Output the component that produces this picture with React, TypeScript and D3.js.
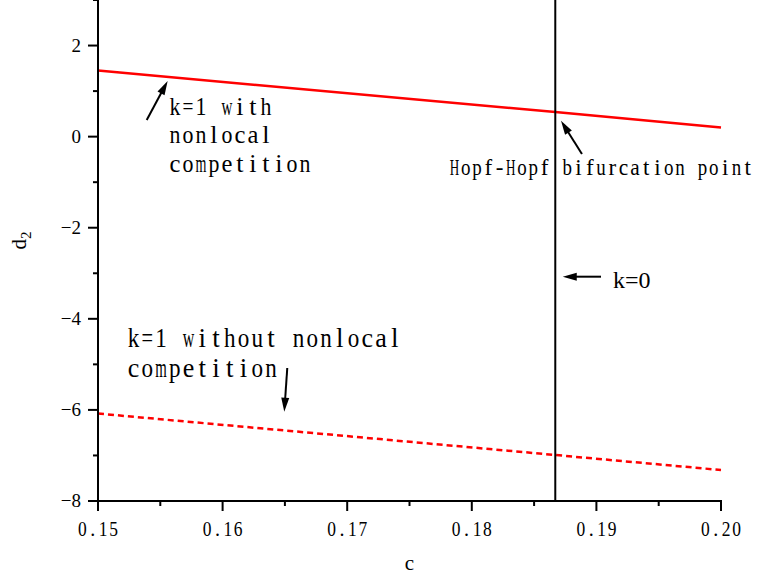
import React from "react";
import * as d3 from "d3";

// Axes
const xDomain: [number, number] = [0.15, 0.2];
const yDomain: [number, number] = [-8, 3];
const xMajorTicks = [0.15, 0.16, 0.17, 0.18, 0.19, 0.2];
const xTickLabels = ["0.15", "0.16", "0.17", "0.18", "0.19", "0.20"];
const xMinorTicks = [0.155, 0.165, 0.175, 0.185, 0.195];
const yMajorTicks = [2, 0, -2, -4, -6, -8];
const yTickLabels = ["2", "0", "\u22122", "\u22124", "\u22126", "\u22128"];
const yMinorTicks = [3, 1, -1, -3, -5, -7];

// Curves: k=1 with nonlocal competition (solid) and without (dashed)
const cValues = [0.15, 0.1867, 0.2];
const d2WithNonlocal = [1.45, 0.54, 0.2];
const d2WithoutNonlocal = [-6.08, -6.99, -7.32];

// k=0 line
const kZeroC = 0.1867;

// Annotation texts
const annLabelsWith = ["k=1 with", "nonlocal", "competition"];
const annLabelsWithout = ["k=1 without nonlocal", "competition"];
const hopfLabel = "Hopf-Hopf bifurcation point";
const kZeroLabel = "k=0";

// Arrows: [tailC, tailD2, tipC, tipD2]
const arrows: [number, number, number, number][] = [
  [0.15391, 0.366, 0.15559, 1.222],
  [0.18884, -0.381, 0.18716, 0.35],
  [0.19037, -3.075, 0.1873, -3.075],
  [0.16519, -5.079, 0.16495, -6.039],
];

const W = 758;
const H = 579;
const left = 98;
const right = 721;
const top = 0;
const bottom = 501;

const serif = "'Liberation Serif', 'DejaVu Serif', serif";

// glyph width measurement for fixed-cell text
let measureCtx: CanvasRenderingContext2D | null = null;
function glyphWidth(ch: string, fontSize: number): number {
  if (!measureCtx) {
    measureCtx = document.createElement("canvas").getContext("2d");
  }
  if (!measureCtx) return fontSize * 0.5;
  measureCtx.font = `${fontSize}px 'Liberation Serif'`;
  return measureCtx.measureText(ch).width;
}

// Draws text with every character centred in a fixed-width cell,
// narrowing wide glyphs so they stay inside their cell.
function CellText({
  text,
  x,
  y,
  cell,
  fontSize,
  anchor = "start",
}: {
  text: string;
  x: number;
  y: number;
  cell: number;
  fontSize: number;
  anchor?: "start" | "middle";
}) {
  const total = text.length * cell;
  const x0 = anchor === "middle" ? x - total / 2 : x;
  const maxW = cell * 0.84;
  return (
    <g>
      {Array.from(text).map((ch, i) => {
        if (ch === " ") return null;
        const w = glyphWidth(ch, fontSize);
        const s = w > maxW ? maxW / w : 1;
        const cx = x0 + (i + 0.5) * cell;
        return (
          <text
            key={i}
            transform={`translate(${cx},${y}) scale(${s},1)`}
            textAnchor="middle"
            fontFamily={serif}
            fontSize={fontSize}
            fill="#000"
          >
            {ch}
          </text>
        );
      })}
    </g>
  );
}

export default function App() {
  const x = d3.scaleLinear().domain(xDomain).range([left, right]);
  const y = d3.scaleLinear().domain(yDomain).range([bottom, top]);

  const line = d3
    .line<number>()
    .x((_, i) => x(cValues[i]))
    .y((d) => y(d));

  const arrowHead = (x1: number, y1: number, x2: number, y2: number) => {
    const dx = x2 - x1;
    const dy = y2 - y1;
    const len = Math.hypot(dx, dy);
    const ux = dx / len;
    const uy = dy / len;
    const hl = 14;
    const hw = 4;
    const bx = x2 - ux * hl;
    const by = y2 - uy * hl;
    return [
      [x2, y2],
      [bx - uy * hw, by + ux * hw],
      [bx + uy * hw, by - ux * hw],
    ]
      .map((p) => p.join(","))
      .join(" ");
  };

  return (
    <svg
      width={W}
      height={H}
      style={{ position: "absolute", left: 0, top: 0, background: "#fff" }}
    >
      <rect width={W} height={H} fill="#fff" />

      {/* curves */}
      <path
        d={line(d2WithNonlocal) ?? ""}
        fill="none"
        stroke="#ff0000"
        strokeWidth={2.5}
      />
      <path
        d={line(d2WithoutNonlocal) ?? ""}
        fill="none"
        stroke="#ff0000"
        strokeWidth={2.5}
        strokeDasharray="6,4"
      />
      <line
        x1={x(kZeroC)}
        x2={x(kZeroC)}
        y1={y(yDomain[1])}
        y2={y(yDomain[0])}
        stroke="#000"
        strokeWidth={2}
      />

      {/* axes */}
      <line x1={left} x2={left} y1={top} y2={bottom + 1} stroke="#000" strokeWidth={2} />
      <line x1={left - 1} x2={right + 1} y1={bottom} y2={bottom} stroke="#000" strokeWidth={2} />
      {xMajorTicks.map((t, i) => (
        <g key={"xt" + i}>
          <line x1={x(t)} x2={x(t)} y1={bottom} y2={bottom + 10} stroke="#000" strokeWidth={2} />
          <CellText text={xTickLabels[i]} x={x(t)} y={536} cell={10.4} fontSize={20} anchor="middle" />
        </g>
      ))}
      {xMinorTicks.map((t, i) => (
        <line key={"xm" + i} x1={x(t)} x2={x(t)} y1={bottom} y2={bottom + 5} stroke="#000" strokeWidth={2} />
      ))}
      {yMajorTicks.map((t, i) => (
        <g key={"yt" + i}>
          <line x1={left - 10} x2={left} y1={y(t)} y2={y(t)} stroke="#000" strokeWidth={2} />
          <text
            x={81}
            y={y(t) + 6}
            textAnchor="end"
            fontFamily={serif}
            fontSize={19}
            fill="#000"
          >
            {yTickLabels[i]}
          </text>
        </g>
      ))}
      {yMinorTicks.map((t, i) => (
        <line key={"ym" + i} x1={left - 5} x2={left} y1={y(t)} y2={y(t)} stroke="#000" strokeWidth={2} />
      ))}

      {/* axis titles */}
      <text x={(left + right) / 2} y={570} textAnchor="middle" fontFamily={serif} fontSize={21} fill="#000">
        c
      </text>
      <text
        transform={`translate(26,${(top + bottom) / 2 - 10}) rotate(-90)`}
        textAnchor="middle"
        fontFamily={serif}
        fontSize={21}
        fill="#000"
      >
        d
        <tspan dy={5} fontSize={15}>
          2
        </tspan>
      </text>

      {/* annotations */}
      {annLabelsWith.map((t, i) => (
        <CellText key={"w" + i} text={t} x={x(0.15565)} y={y(0.475) + i * 28.3} cell={13} fontSize={26} />
      ))}
      {annLabelsWithout.map((t, i) => (
        <CellText key={"wo" + i} text={t} x={x(0.1523)} y={y(-4.611) + i * 30} cell={13.75} fontSize={27} />
      ))}
      <CellText text={hopfLabel} x={x(0.17815)} y={y(-0.842)} cell={11.28} fontSize={23} />
      <text x={x(0.19133)} y={y(-3.323)} fontFamily={serif} fontSize={24} fill="#000">
        {kZeroLabel}
      </text>

      {arrows.map(([c1, v1, c2, v2], i) => {
        const x1 = x(c1);
        const y1 = y(v1);
        const x2 = x(c2);
        const y2 = y(v2);
        const len = Math.hypot(x2 - x1, y2 - y1);
        const ex = x2 - ((x2 - x1) / len) * 10;
        const ey = y2 - ((y2 - y1) / len) * 10;
        return (
          <g key={"a" + i}>
            <line x1={x1} y1={y1} x2={ex} y2={ey} stroke="#000" strokeWidth={2} />
            <polygon points={arrowHead(x1, y1, x2, y2)} fill="#000" />
          </g>
        );
      })}
    </svg>
  );
}
